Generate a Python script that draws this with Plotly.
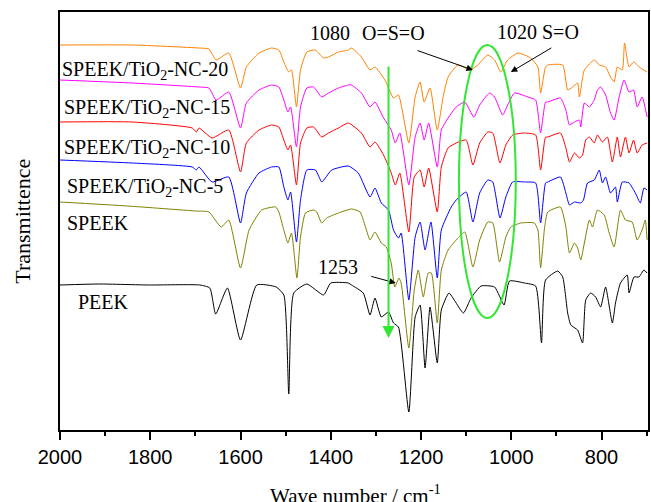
import plotly.graph_objects as go

# ---------------- data (wavenumber cm-1, transmittance in arbitrary units) ----------------
peek_wn = [2000, 1913, 1802, 1690, 1668, 1655, 1629, 1600, 1564, 1521, 1504, 1493, 1482, 1453, 1416, 1400,
           1361, 1354, 1328, 1313, 1302, 1288, 1272, 1261, 1250, 1227, 1213, 1202, 1191, 1180, 1164, 1155,
           1138, 1125, 1106, 1089, 1067, 1037, 1016, 1004, 971, 946, 933, 924, 897, 886, 875, 868, 853, 842,
           835, 824, 813, 802, 791, 776, 769, 758, 743, 739, 728, 717, 706, 699]
peek_t = [146, 147, 146, 146, 143, 117, 143, 91, 146, 144, 136, 37, 138, 147, 136, 148,
          148, 146, 138, 116, 133, 114, 119, 108, 104, 19, 114, 126, 63, 124, 68, 121,
          138, 130, 118, 133, 145, 144, 126, 150, 148, 145, 88, 151, 160, 154, 118, 106, 101, 88,
          131, 138, 134, 124, 144, 108, 128, 148, 156, 138, 154, 154, 161, 158]

speek_wn = [2000, 1850, 1700, 1670, 1643, 1626, 1600, 1581, 1553, 1522, 1515, 1504, 1495, 1487, 1475, 1467,
            1456, 1438, 1431, 1420, 1409, 1383, 1354, 1335, 1321, 1313, 1302, 1288, 1277, 1266, 1258, 1249,
            1244, 1227, 1215, 1206, 1195, 1184, 1177, 1164, 1155, 1140, 1118, 1103, 1085, 1070, 1052, 1041,
            1026, 1012, 1001, 979, 949, 941, 935, 926, 919, 891, 879, 871, 860, 853, 846, 838, 827, 820,
            809, 794, 783, 772, 758, 747, 732, 721, 710, 703, 699]
speek_t = [229, 225, 220, 219, 204, 211, 163, 201, 221, 224, 219, 201, 188, 198, 153, 194,
           218, 221, 219, 208, 213, 218, 222, 219, 201, 191, 199, 188, 184, 168, 144, 153,
           148, 83, 141, 161, 134, 158, 158, 108, 161, 181, 193, 199, 164, 191, 209, 208,
           169, 194, 204, 208, 208, 201, 163, 204, 219, 224, 204, 178, 188, 183, 171, 188, 211, 204,
           221, 216, 198, 184, 221, 211, 209, 191, 201, 211, 191]

nc5_wn = [2000, 1840, 1707, 1698, 1692, 1663, 1626, 1600, 1587, 1559, 1531, 1515, 1504, 1495, 1489, 1476,
          1467, 1453, 1434, 1420, 1412, 1398, 1361, 1339, 1313, 1302, 1288, 1272, 1261, 1250, 1244, 1227,
          1213, 1202, 1191, 1178, 1164, 1155, 1133, 1122, 1100, 1085, 1070, 1052, 1041, 1025, 1012, 997,
          971, 946, 935, 924, 919, 891, 879, 871, 860, 846, 840, 831, 816, 805, 798, 791, 780, 769, 765,
          754, 739, 725, 714, 706, 699]
nc5_t = [271, 268, 264, 261, 264, 249, 254, 208, 238, 258, 264, 264, 244, 231, 239, 189,
         231, 261, 261, 249, 253, 261, 265, 258, 234, 243, 228, 221, 201, 193, 198, 131,
         194, 209, 181, 209, 153, 201, 224, 231, 239, 209, 238, 251, 249, 213, 234, 249,
         249, 248, 208, 248, 249, 254, 238, 226, 229, 228, 231, 248, 251, 261, 248, 254, 238, 244, 229,
         249, 248, 238, 228, 243, 241]

nc10_wn = [2000, 1840, 1707, 1698, 1692, 1663, 1626, 1600, 1587, 1559, 1531, 1515, 1504, 1495, 1489, 1476,
           1467, 1453, 1438, 1420, 1405, 1383, 1361, 1332, 1313, 1302, 1283, 1266, 1257, 1247, 1227, 1215,
           1202, 1193, 1183, 1164, 1155, 1140, 1122, 1100, 1085, 1070, 1052, 1041, 1025, 1012, 997, 971,
           946, 935, 924, 919, 891, 879, 871, 860, 849, 842, 835, 827, 816, 809, 798, 787, 776, 765, 758,
           747, 739, 729, 721, 710, 699]
nc10_t = [309, 309, 303, 299, 303, 293, 301, 259, 288, 301, 306, 304, 291, 281, 286, 246,
          288, 303, 304, 294, 298, 303, 308, 298, 284, 289, 276, 258, 246, 258, 199, 254,
          261, 244, 263, 219, 264, 283, 288, 291, 266, 288, 299, 298, 268, 286, 296, 298,
          296, 261, 294, 294, 298, 283, 269, 278, 273, 276, 291, 294, 288, 296, 289, 294, 269, 294, 274,
          294, 278, 291, 278, 286, 288]

nc15_wn = [2000, 1840, 1692, 1670, 1654, 1626, 1600, 1587, 1559, 1531, 1515, 1504, 1495, 1489, 1476, 1467,
           1453, 1438, 1420, 1405, 1383, 1361, 1354, 1332, 1313, 1302, 1283, 1266, 1257, 1247, 1227, 1213,
           1202, 1193, 1183, 1164, 1155, 1140, 1122, 1103, 1083, 1070, 1048, 1037, 1019, 1008, 993, 963,
           946, 935, 924, 919, 891, 879, 871, 860, 849, 846, 838, 827, 816, 809, 802, 791, 780, 772, 761,
           750, 739, 729, 721, 710, 699]
nc15_t = [351, 348, 344, 343, 331, 339, 303, 328, 341, 346, 344, 331, 319, 324, 284, 324,
          343, 344, 334, 338, 343, 346, 346, 338, 324, 329, 313, 301, 288, 298, 246, 294,
          308, 291, 308, 264, 301, 313, 324, 329, 314, 326, 338, 334, 316, 326, 338, 334,
          331, 298, 329, 329, 333, 321, 306, 309, 311, 304, 328, 324, 331, 341, 344, 336, 318, 311, 334,
          351, 339, 341, 324, 334, 314]

nc20_wn = [2000, 1840, 1692, 1670, 1654, 1626, 1600, 1587, 1559, 1531, 1515, 1504, 1493, 1487, 1476, 1467,
           1453, 1434, 1416, 1405, 1383, 1361, 1354, 1332, 1313, 1302, 1280, 1261, 1250, 1227, 1213, 1202,
           1193, 1180, 1164, 1151, 1140, 1118, 1092, 1074, 1052, 1037, 1023, 1008, 985, 957, 941, 935,
           924, 919, 886, 875, 864, 853, 849, 838, 816, 805, 791, 780, 772, 765, 754, 749, 739, 729, 714, 699]
nc20_t = [386, 386, 383, 382, 371, 378, 343, 364, 378, 383, 381, 369, 359, 361, 324, 361,
          379, 381, 373, 374, 379, 381, 383, 374, 361, 364, 351, 333, 336, 288, 334, 349,
          329, 343, 301, 334, 354, 366, 361, 366, 376, 371, 359, 371, 378, 373, 364, 338,
          364, 366, 366, 341, 344, 348, 334, 361, 371, 366, 364, 354, 349, 364, 361, 388, 364, 369, 363, 359]

x_ticks = [2000, 1800, 1600, 1400, 1200, 1000, 800]
x_minor = [1900, 1700, 1500, 1300, 1100, 900, 700]

series = [
    ("PEEK", peek_wn, peek_t, "#000000"),
    ("SPEEK", speek_wn, speek_t, "#808000"),
    ("SPEEK/TiO2-NC-5", nc5_wn, nc5_t, "#0000FF"),
    ("SPEEK/TiO2-NC-10", nc10_wn, nc10_t, "#FF0000"),
    ("SPEEK/TiO2-NC-15", nc15_wn, nc15_t, "#FF00FF"),
    ("SPEEK/TiO2-NC-20", nc20_wn, nc20_t, "#FF8000"),
]

fig = go.Figure()
for name, wn, t, col in series:
    fig.add_trace(go.Scatter(x=wn, y=t, mode="lines", name=name,
                             line=dict(color=col, width=1, shape="spline", smoothing=0.5),
                             showlegend=False))

serif = "Liberation Serif"
GREEN = "#33E633"
labels = [
    ("SPEEK/TiO<sub>2</sub>-NC-20", 2000, 361),
    ("SPEEK/TiO<sub>2</sub>-NC-15", 1996, 323),
    ("SPEEK/TiO<sub>2</sub>-NC-10", 1996, 283),
    ("SPEEK/TiO<sub>2</sub>-NC-5", 1989, 244),
    ("SPEEK", 1989, 208),
    ("PEEK", 1964, 129),
]
ann = []
for txt, x, y in labels:
    ann.append(dict(x=x, y=y, text=txt, showarrow=False, xanchor="left", yanchor="middle",
                    font=dict(family=serif, size=20, color="black")))

for txt, x, y in [("1080", 1401, 398), ("O=S=O", 1260, 398), ("1020 S=O", 940, 399), ("1253", 1383, 164)]:
    ann.append(dict(x=x, y=y, text=txt, showarrow=False, xanchor="center", yanchor="middle",
                    font=dict(family=serif, size=20, color="black")))

# black arrows
for x, y, ax, ay in [(1085, 361, -57, -20), (1001, 359, 42, -25), (1256, 148, -26, -7)]:
    ann.append(dict(x=x, y=y, ax=ax, ay=ay, text="", showarrow=True, arrowhead=2,
                    arrowsize=1.3, arrowwidth=1, arrowcolor="black"))
# green arrow
ann.append(dict(x=1272, y=93, ax=0, ay=-273, text="", showarrow=True, arrowhead=2,
                arrowsize=1.2, arrowwidth=2, arrowcolor=GREEN))

# axis titles as paper annotations (plot area: x 60..648, y 12..430 px)
ann.append(dict(xref="paper", yref="paper", x=0.502, y=-0.155, text="Wave number / cm<sup>-1</sup>",
                showarrow=False, xanchor="center", yanchor="middle",
                font=dict(family=serif, size=21, color="black")))
ann.append(dict(xref="paper", yref="paper", x=-0.065, y=0.50, text="Transmittence", textangle=-90,
                showarrow=False, xanchor="center", yanchor="middle",
                font=dict(family=serif, size=22, color="black")))

fig.update_layout(
    width=651, height=502,
    margin=dict(l=60, r=3, t=12, b=72, autoexpand=False),
    paper_bgcolor="white", plot_bgcolor="white",
    annotations=ann,
    shapes=[dict(type="circle", xref="x", yref="y", x0=1116, x1=990, y0=113, y1=386,
                 line=dict(color=GREEN, width=2))],
    xaxis=dict(range=[2000, 697], tickvals=x_ticks, ticks="outside", ticklen=8, tickwidth=1.5,
               tickcolor="black", showline=True, linecolor="black", linewidth=1.5, mirror=True,
               showgrid=False, zeroline=False, automargin=False,
               tickfont=dict(family="Liberation Sans", size=20, color="black"),
               minor=dict(tickvals=x_minor, ticks="outside",
                          ticklen=4, tickwidth=1.5, tickcolor="black", showgrid=False)),
    yaxis=dict(range=[1, 419], showticklabels=False, ticks="", showline=True, linecolor="black",
               linewidth=1.5, mirror=True, showgrid=False, zeroline=False, automargin=False),
)

fig.write_html("out.html", config={"displayModeBar": False},
               post_script="document.body.style.margin='0';document.body.style.overflow='hidden';")
